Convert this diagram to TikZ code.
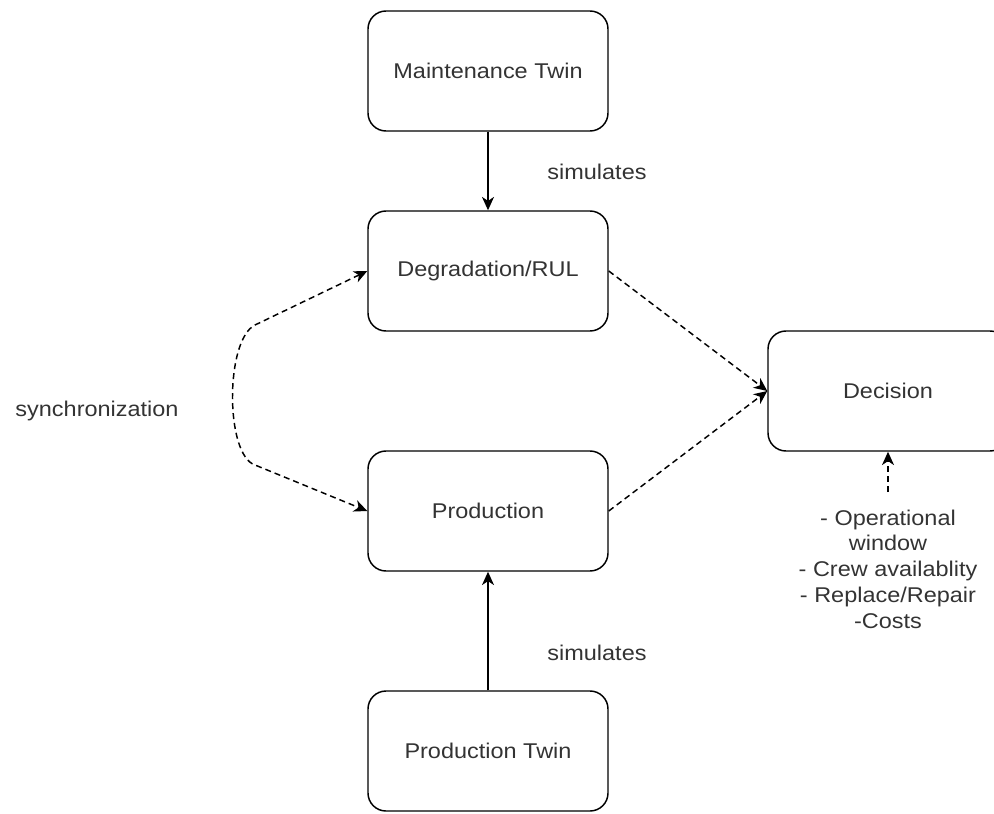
\documentclass[tikz,border=0pt]{standalone}
\usepackage{fontspec}
\setmainfont[FakeStretch=1.1]{Liberation Sans}
\usetikzlibrary{arrows.meta}
\definecolor{txtgray}{HTML}{333333}

\begin{document}
\begin{tikzpicture}[x=0.75pt, y=-0.75pt,
		font=\fontsize{16}{19.3}\selectfont, text=txtgray,
		>={Stealth[length=10pt,width=9pt,inset=3pt]},
		box/.style={draw, line width=1.1pt, rounded corners=13.5pt, minimum width=180pt, minimum height=90pt},
		link/.style={line width=1.1pt, ->},
		dashlink/.style={link, dash pattern=on 4.5pt off 3pt}]

		\clip (0,0) rectangle (994,813);

		\node[box] (mtwin) at (488,71) {Maintenance Twin};
		\node[box] (deg) at (488,271) {Degradation/RUL};
		\node[box] (prod) at (488,511) {Production};
		\node[box] (ptwin) at (488,751) {Production Twin};
		\node[box] (dec) at (888,391) {Decision};

		\draw[link] (mtwin) -- (deg);
		\draw[link] (ptwin) -- (prod);
		\node (simA) at (597,172) {simulates};
		\node (simB) at (597,653) {simulates};

		\draw[dashlink] (deg.east) -- (dec.west);
		\draw[dashlink] (prod.east) -- (dec.west);

		\coordinate (syncA) at (255,325);
		\coordinate (syncB) at (255,465);
		\draw[dashlink, <->] (deg.west) -- (syncA) .. controls (225,340) and (225,455) .. (syncB) -- (prod.west);
		\node (synclbl) at (97,411) {synchronization};

		\node[align=center, anchor=north, inner ysep=13pt] (notes) at (888,492) {- Operational\\window\\- Crew availablity\\- Replace/Repair\\-Costs};
		\draw[dashlink] (notes) -- (dec);
	\end{tikzpicture}
\end{document}
